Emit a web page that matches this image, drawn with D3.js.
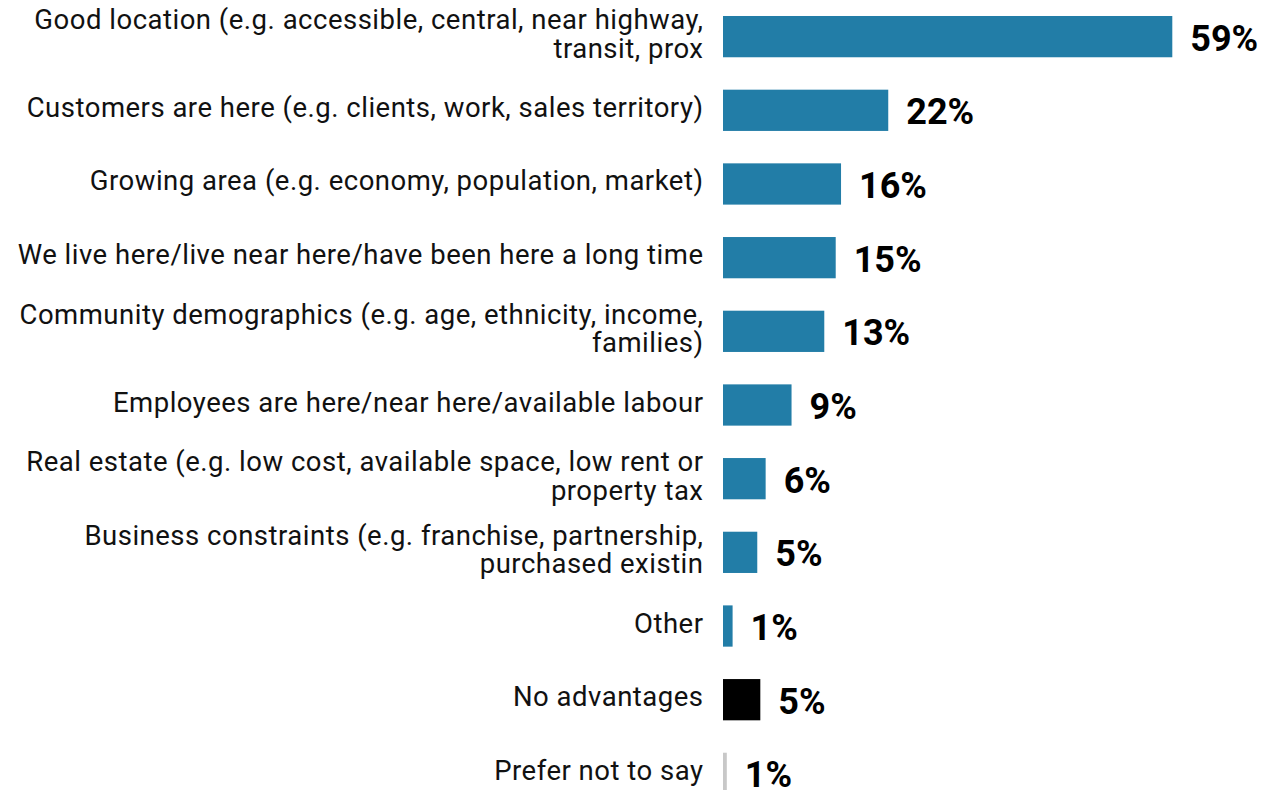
<!DOCTYPE html>
<html>
<head>
<meta charset="utf-8">
<script src="https://cdn.jsdelivr.net/npm/d3@7"></script>
<style>
  html, body { margin: 0; padding: 0; background: #fff; }
  svg { display: block; }
</style>
</head>
<body>
<svg id="chart" width="1265" height="790"></svg>
<script>
const categories = [
  ["Good location (e.g. accessible, central, near highway,", "transit, prox"],
  ["Customers are here (e.g. clients, work, sales territory)"],
  ["Growing area (e.g. economy, population, market)"],
  ["We live here/live near here/have been here a long time"],
  ["Community demographics (e.g. age, ethnicity, income,", "families)"],
  ["Employees are here/near here/available labour"],
  ["Real estate (e.g. low cost, available space, low rent or", "property tax"],
  ["Business constraints (e.g. franchise, partnership,", "purchased existin"],
  ["Other"],
  ["No advantages"],
  ["Prefer not to say"]
];
const values = [59, 21.7, 15.5, 14.8, 13.3, 9.0, 5.6, 4.5, 1.26, 4.9, 0.5];
const valueLabels = ["59%", "22%", "16%", "15%", "13%", "9%", "6%", "5%", "1%", "5%", "1%"];
const barGroups = ["main", "main", "main", "main", "main", "main", "main", "main", "main", "none", "prefer"];

const colors = { main: "#227da7", none: "#000000", prefer: "#c8c8c8" };

const svg = d3.select("#chart");
const ids = categories.map((c, i) => i);

const x = d3.scaleLinear().domain([0, 59]).range([723, 1172.3]);
const y = d3.scaleBand().domain(ids).range([-0.2, 810.2]).paddingInner(0.44).paddingOuter(0.22);

const bh = y.bandwidth();

svg.selectAll("rect.bar")
  .data(ids)
  .join("rect")
  .attr("class", "bar")
  .attr("x", x(0))
  .attr("y", i => y(i))
  .attr("width", i => x(values[i]) - x(0))
  .attr("height", bh)
  .attr("fill", i => colors[barGroups[i]]);

svg.selectAll("text.val")
  .data(ids)
  .join("text")
  .attr("class", "val")
  .attr("x", i => x(values[i]) + 18)
  .attr("y", i => y(i) + bh / 2 + 14)
  .attr("font-family", "Roboto, sans-serif")
  .attr("font-weight", 700)
  .attr("font-size", 36)
  .attr("fill", "#000")
  .text(i => valueLabels[i]);

const labels = svg.selectAll("text.lab")
  .data(ids)
  .join("text")
  .attr("class", "lab")
  .attr("text-anchor", "end")
  .attr("font-family", "Roboto, sans-serif")
  .attr("font-size", 27.5)
  .attr("letter-spacing", "0.5px")
  .attr("fill", "#111");

labels.each(function(i) {
  const lines = categories[i];
  const cy = y(i) + bh / 2;
  const t = d3.select(this);
  lines.forEach((ln, k) => {
    const base = lines.length === 1 ? cy + 6.5 : cy - 7.5 + k * 28.5;
    t.append("tspan").attr("x", 703.5).attr("y", base).text(ln);
  });
});
</script>
</body>
</html>
